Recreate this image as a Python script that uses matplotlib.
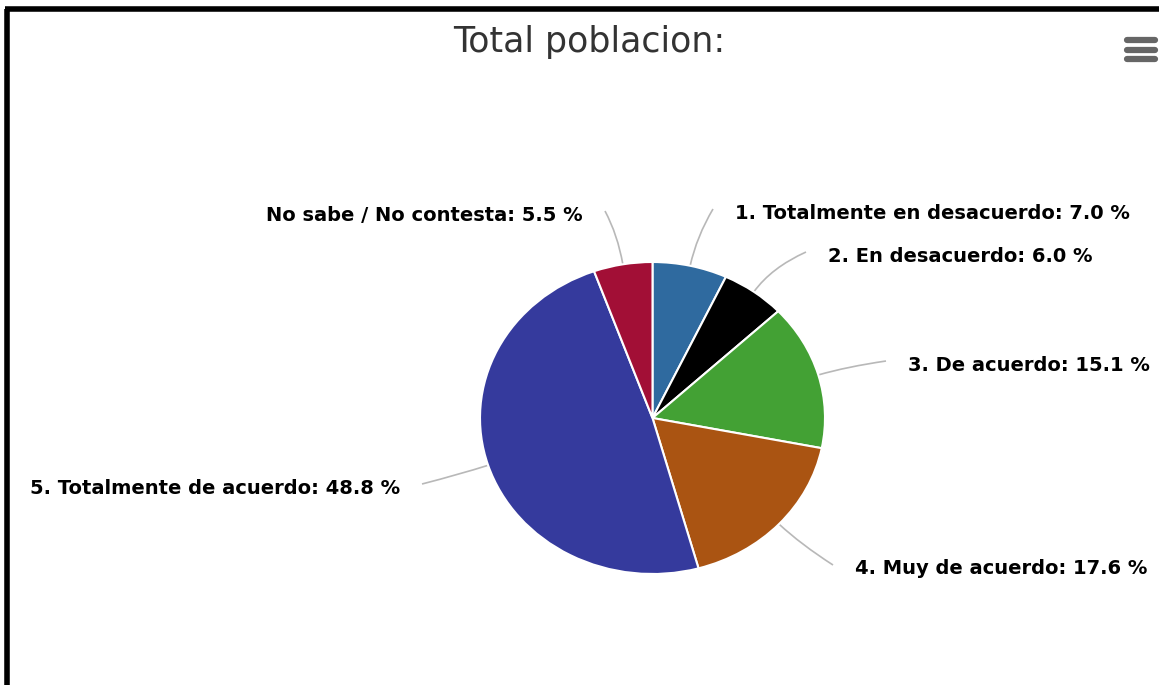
import numpy as np
import matplotlib
matplotlib.use("Agg")
import matplotlib.pyplot as plt
from matplotlib.path import Path
from matplotlib.patches import PathPatch

# ---- data ----
categories = ["1. Totalmente en desacuerdo", "2. En desacuerdo", "3. De acuerdo",
              "4. Muy de acuerdo", "5. Totalmente de acuerdo", "No sabe / No contesta"]
values = [7.0, 6.0, 15.1, 17.6, 48.8, 5.5]
colors = ["#2F6A9F", "#000000", "#43A134", "#AA5412", "#353A9D", "#A20F36"]
title = "Total poblacion:"

# ---- layout (pixels) ----
W, H = 1159, 685
cx, cy, rx, ry = 652.5, 418, 172.5, 156
# label anchor positions (x, y, ha)
label_pos = [(735, 213, "left"), (828, 256, "left"), (908, 365, "left"),
             (855, 569, "left"), (400, 488, "right"), (583, 215, "right")]

fig = plt.figure(figsize=(W / 100, H / 100), dpi=100)
ax = fig.add_axes([0, 0, 1, 1])
ax.set_xlim(0, W)
ax.set_ylim(H, 0)
ax.axis("off")

pax = fig.add_axes([(cx - rx) / W, (H - cy - ry) / H, 2 * rx / W, 2 * ry / H])
wedges, _ = pax.pie(values, colors=colors, startangle=90, counterclock=False,
                    wedgeprops=dict(edgecolor="white", linewidth=1.5))
pax.set_xlim(-1, 1)
pax.set_ylim(-1, 1)
pax.set_aspect("auto")
pax.axis("off")

for w, cat, val, (lx, ly, ha) in zip(wedges, categories, values, label_pos):
    mid = np.deg2rad((w.theta1 + w.theta2) / 2)
    c, s = np.cos(mid), np.sin(mid)
    p0 = (cx + rx * c, cy - ry * s)
    p1 = (cx + (rx + 30) * c, cy - (ry + 30) * s)
    ex = lx - 22 if ha == "left" else lx + 22
    p2 = (ex, ly - 4)
    path = Path([p0, p1, p2], [Path.MOVETO, Path.CURVE3, Path.CURVE3])
    ax.add_patch(PathPatch(path, fill=False, edgecolor="#B8B8B8", lw=1.2))
    ax.text(lx, ly, f"{cat}: {val:.1f} %", ha=ha, va="center",
            fontsize=14, fontweight="bold", color="#000000", family="DejaVu Sans")

ax.text(589, 42, title, ha="center", va="center", fontsize=25, color="#333333",
        family="DejaVu Sans")

# hamburger menu icon
for yy in (39.5, 49.5, 58.5):
    ax.plot([1127, 1155], [yy, yy], color="#666666", lw=4.5, solid_capstyle="round")

# frame border (left and top)
ax.plot([7, 7], [9, H], color="black", lw=4, solid_capstyle="butt")
ax.plot([5, W], [9, 9], color="black", lw=4, solid_capstyle="butt")

fig.savefig("out.png", dpi=100)
